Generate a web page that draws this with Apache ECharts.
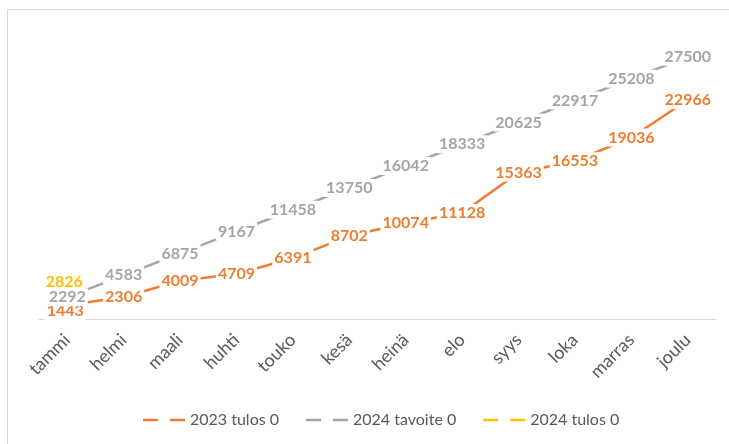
<!DOCTYPE html>
<html>
<head>
<meta charset="utf-8">
<script src="https://cdn.jsdelivr.net/npm/echarts@6/dist/echarts.min.js"></script>
<style>
html,body{margin:0;padding:0;background:#fff;}
#frame{position:absolute;left:7px;top:9px;width:722px;height:435px;border-left:1px solid #d9d9d9;border-top:1px solid #d9d9d9;}
#main{position:absolute;left:0;top:0;width:729px;height:444px;}
</style>
</head>
<body>
<div id="frame"></div>
<div id="main"></div>
<script>
const categories = ['tammi','helmi','maali','huhti','touko','kesä','heinä','elo','syys','loka','marras','joulu'];
const seriesNames = ['2023 tulos 0','2024 tavoite 0','2024 tulos 0'];
const tulos2023 = [1443,2306,4009,4709,6391,8702,10074,11128,15363,16553,19036,22966];
const tavoite2024 = [2292,4583,6875,9167,11458,13750,16042,18333,20625,22917,25208,27500];
const tulos2024 = [2826,null,null,null,null,null,null,null,null,null,null,null];

const colors = ['#ED7D31','#A5A5A5','#FFC000'];
const font = 'Lato, "Open Sans", sans-serif';
const icon = 'path://M0,0h15v2.5h-15z M27,0h15v2.5h-15z';

function withOffsets(values, offsets) {
  return values.map((v, i) => offsets[i] ? { value: v, label: { offset: offsets[i] } } : v);
}

function mkSeries(idx, data) {
  return {
    name: seriesNames[idx],
    type: 'line',
    data: data,
    color: colors[idx],
    symbol: 'circle',
    symbolSize: 0,
    showSymbol: true,
    lineStyle: { width: 2.5, color: colors[idx] },
    itemStyle: { color: colors[idx] },
    label: {
      show: true,
      position: 'inside',
      color: colors[idx],
      fontFamily: font,
      fontWeight: 'bold',
      fontSize: 16,
      backgroundColor: '#fff',
      padding: [1, 2]
    },
    emphasis: { disabled: true },
    animation: false
  };
}

const chart = echarts.init(document.getElementById('main'), null, { renderer: 'canvas' });
chart.setOption({
  backgroundColor: 'transparent',
  animation: false,
  grid: { left: 39, right: 13, top: 33, bottom: 125 },
  xAxis: {
    type: 'category',
    data: categories,
    boundaryGap: true,
    axisLine: { show: true, lineStyle: { color: '#d9d9d9', width: 1 } },
    axisTick: { show: false },
    axisLabel: { rotate: 45, margin: 18, color: '#595959', fontFamily: font, fontSize: 18 },
    splitLine: { show: false }
  },
  yAxis: {
    type: 'value',
    min: 0,
    max: 30000,
    show: false,
    splitLine: { show: false }
  },
  legend: {
    bottom: 11,
    left: 138,
    icon: icon,
    itemWidth: 42,
    itemHeight: 3,
    itemGap: 27,
    textStyle: { color: '#595959', fontFamily: font, fontSize: 16 },
    data: seriesNames
  },
  series: [
    mkSeries(0, withOffsets(tulos2023, {0: [-2, 6]})),
    mkSeries(1, tavoite2024),
    mkSeries(2, withOffsets(tulos2024, {0: [-3, -10]}))
  ]
});
</script>
</body>
</html>
